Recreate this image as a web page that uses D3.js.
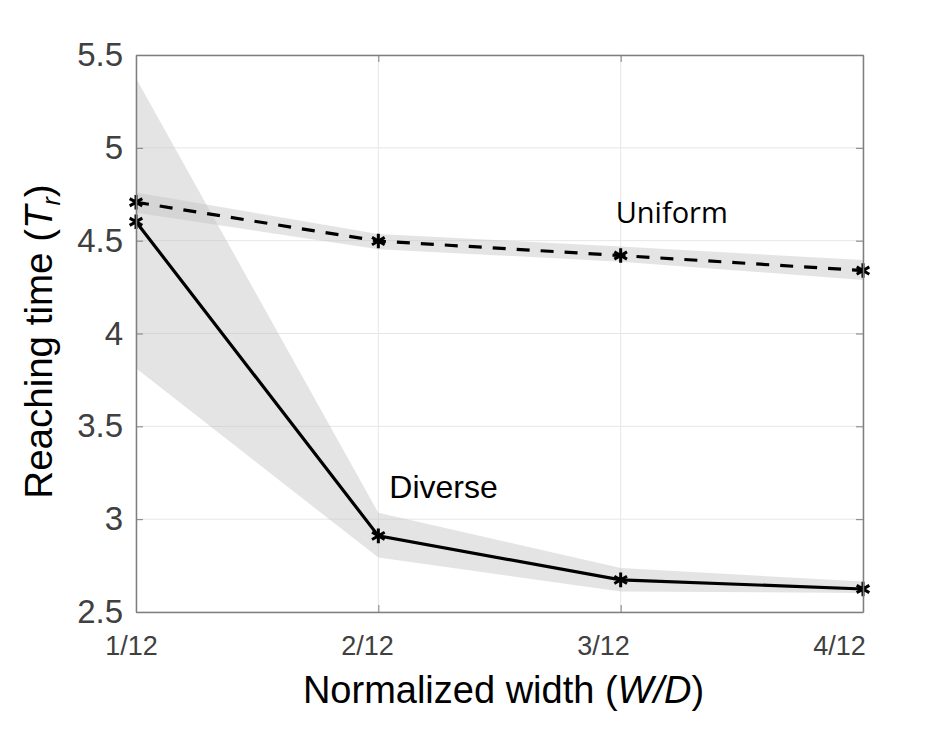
<!DOCTYPE html>
<html>
<head>
<meta charset="utf-8">
<script src="https://cdn.jsdelivr.net/npm/d3@7"></script>
<style>
    body { margin: 0; background: #fff; }
    svg { display: block; font-family: Arial, "Liberation Sans", sans-serif; }
</style>
</head>
<body>
<svg id="chart"></svg>
<script>
const width = 949, height = 735;

// x positions in twelfths of D
const widths = [1, 2, 3, 4];
const tickLabels = ["1/12", "2/12", "3/12", "4/12"];

// mean reaching time and shaded spread for each strategy
const uniformMean  = [4.707, 4.498, 4.420, 4.339];
const uniformLow   = [4.650, 4.454, 4.387, 4.288];
const uniformHigh  = [4.760, 4.536, 4.468, 4.396];

const diverseMean  = [4.602, 2.910, 2.673, 2.624];
const diverseLow   = [3.813, 2.793, 2.610, 2.603];
const diverseHigh  = [5.375, 3.034, 2.737, 2.664];

const yTicks = [2.5, 3, 3.5, 4, 4.5, 5, 5.5];

const margin = { left: 136, top: 55, right: 86, bottom: 123 };
const innerW = width - margin.left - margin.right;
const innerH = height - margin.top - margin.bottom;

const svg = d3.select("#chart")
    .attr("width", width)
    .attr("height", height);

const g = svg.append("g")
    .attr("transform", `translate(${margin.left},${margin.top})`);

const x = d3.scaleLinear().domain([1, 4]).range([0, innerW]);
const y = d3.scaleLinear().domain([2.5, 5.5]).range([innerH, 0]);

// tick labels sit a little left of their ticks in the original
const xLab = d3.scaleLinear().domain([1, 4]).range([-5, innerW - 24]);

// grid
g.append("g").selectAll("line.v")
    .data(widths)
    .join("line")
    .attr("x1", d => x(d)).attr("x2", d => x(d))
    .attr("y1", 0).attr("y2", innerH)
    .attr("stroke", "#e6e6e6").attr("stroke-width", 1);

g.append("g").selectAll("line.h")
    .data(yTicks)
    .join("line")
    .attr("x1", 0).attr("x2", innerW)
    .attr("y1", d => y(d)).attr("y2", d => y(d))
    .attr("stroke", "#e6e6e6").attr("stroke-width", 1);

// shaded bands
const band = (lo, hi) => d3.area()
    .x((d, i) => x(widths[i]))
    .y0((d, i) => y(lo[i]))
    .y1((d, i) => y(hi[i]));

g.append("path")
    .datum(widths)
    .attr("d", band(diverseLow, diverseHigh))
    .attr("fill", "#c4c4c4").attr("fill-opacity", 0.45);

g.append("path")
    .datum(widths)
    .attr("d", band(uniformLow, uniformHigh))
    .attr("fill", "#c4c4c4").attr("fill-opacity", 0.45);

// mean lines
const line = vals => d3.line()
    .x((d, i) => x(widths[i]))
    .y((d, i) => y(vals[i]));

g.append("path")
    .datum(widths)
    .attr("d", line(diverseMean))
    .attr("fill", "none").attr("stroke", "#000").attr("stroke-width", 3.2);

g.append("path")
    .datum(widths)
    .attr("d", line(uniformMean))
    .attr("fill", "none").attr("stroke", "#000").attr("stroke-width", 3.2)
    .attr("stroke-dasharray", "13,11");

// asterisk markers
const star = d3.symbol().type(d3.symbolAsterisk).size(150);
[uniformMean, diverseMean].forEach(vals => {
    g.append("g").selectAll("path")
        .data(widths)
        .join("path")
        .attr("transform", (d, i) => `translate(${x(d)},${y(vals[i])})`)
        .attr("d", star)
        .attr("fill", "none").attr("stroke", "#000").attr("stroke-width", 3);
});

// axes (box with inward ticks)
const axisColor = "#7f7f7f";
const yAxis = g.append("g")
    .call(d3.axisLeft(y).tickValues(yTicks).tickSizeInner(-7).tickSizeOuter(0)
        .tickPadding(13).tickFormat(d3.format("")));
yAxis.select(".domain").attr("stroke", axisColor).attr("stroke-width", 1.5);
yAxis.selectAll(".tick line").attr("stroke", axisColor);
yAxis.selectAll(".tick text")
    .attr("font-size", 33).attr("fill", "#404040");

const xAxis = g.append("g")
    .attr("transform", `translate(0,${innerH})`)
    .call(d3.axisBottom(x).tickValues(widths).tickSizeInner(-7).tickSizeOuter(0)
        .tickFormat((d, i) => tickLabels[i]));
xAxis.select(".domain").attr("stroke", axisColor).attr("stroke-width", 1.5);
xAxis.selectAll(".tick line").attr("stroke", axisColor);
xAxis.selectAll(".tick text")
    .attr("font-size", 27).attr("fill", "#404040")
    .attr("x", d => xLab(d) - x(d))
    .attr("y", 24);

g.append("g")
    .call(d3.axisTop(x).tickValues(widths).tickSizeInner(-7).tickSizeOuter(0).tickFormat(""))
    .call(a => a.select(".domain").attr("stroke", axisColor).attr("stroke-width", 1.5))
    .call(a => a.selectAll(".tick line").attr("stroke", axisColor));

g.append("g")
    .attr("transform", `translate(${innerW},0)`)
    .call(d3.axisRight(y).tickValues(yTicks).tickSizeInner(-7).tickSizeOuter(0).tickFormat(""))
    .call(a => a.select(".domain").attr("stroke", axisColor).attr("stroke-width", 1.5))
    .call(a => a.selectAll(".tick line").attr("stroke", axisColor));

// axis titles
const xTitle = svg.append("text")
    .attr("x", margin.left + innerW / 2 + 4)
    .attr("y", 703)
    .attr("text-anchor", "middle")
    .attr("font-size", 38)
    .attr("fill", "#000");
xTitle.append("tspan").text("Normalized width (");
xTitle.append("tspan").attr("font-style", "italic").text("W/D");
xTitle.append("tspan").text(")");

const yTitle = svg.append("text")
    .attr("transform", `translate(52,${margin.top + innerH / 2 + 8}) rotate(-90)`)
    .attr("text-anchor", "middle")
    .attr("font-size", 38.5)
    .attr("fill", "#000");
yTitle.append("tspan").text("Reaching time (");
yTitle.append("tspan").attr("font-style", "italic").text("T");
yTitle.append("tspan").attr("font-style", "italic").attr("font-size", 25).attr("dy", 8).text("r");
yTitle.append("tspan").attr("dy", -8).text(")");

// series labels
g.append("text")
    .attr("x", x(3) - 5).attr("y", y(4.595))
    .attr("font-family", "'Open Sans', 'Noto Sans', sans-serif")
    .attr("font-size", 29)
    .attr("fill", "#000")
    .text("Uniform");

g.append("text")
    .attr("x", x(2) + 11).attr("y", y(3.116))
    .attr("font-size", 32)
    .attr("fill", "#000")
    .text("Diverse");
</script>
</body>
</html>
